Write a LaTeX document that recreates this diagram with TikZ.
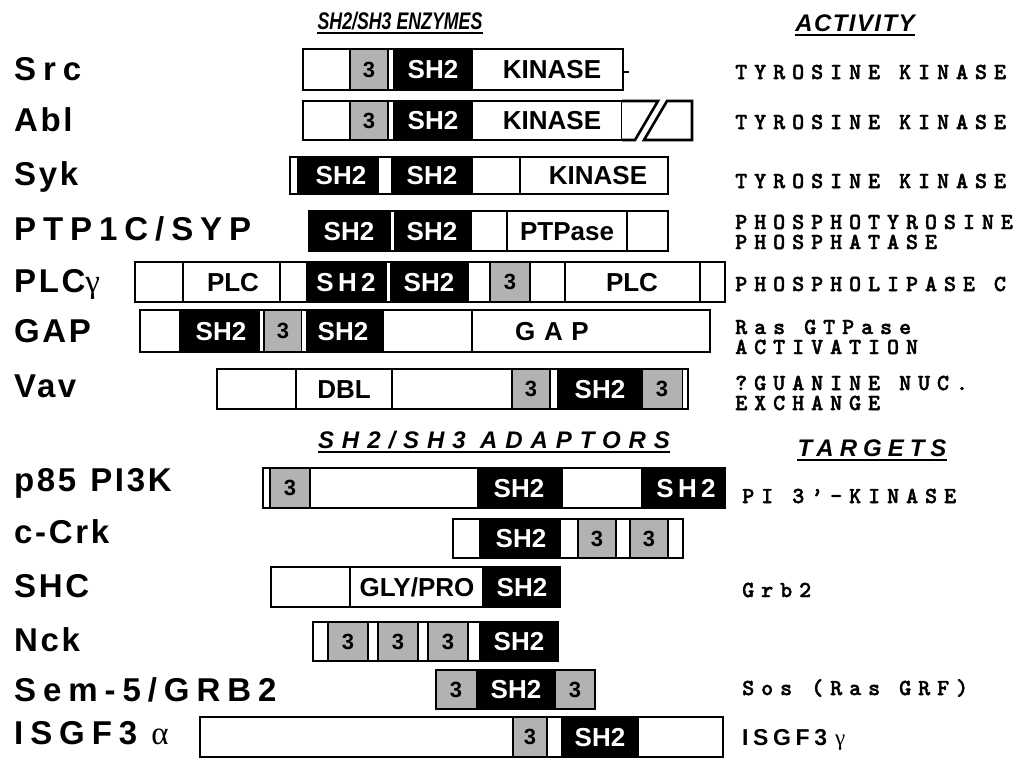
\documentclass[tikz,border=0pt]{standalone}
\usepackage{fontspec}
\setmainfont{Liberation Sans}
\newfontfamily\courfam[FakeBold=1.8]{lmmonolt10-bold.otf}
\newfontfamily\grkfam{Liberation Serif}
\usepackage{graphicx}
\usepackage{tikz}
\usetikzlibrary{positioning}
\definecolor{halftone}{HTML}{B2B2B2}
\tikzset{
  frame/.style={draw=black,line width=2.6pt},
  wseg/.style={draw=black,line width=1.5pt,fill=white},
  gseg/.style={draw=black,line width=1.2pt,fill=halftone},
  dtxt/.style={font=\fontsize{26}{26}\selectfont\bfseries,text height=18.6pt,text depth=0pt,inner sep=0pt},
  wtxt/.style={dtxt,text=white},
  ntxt/.style={font=\fontsize{22}{22}\selectfont\bfseries,text height=15.8pt,text depth=0pt,inner sep=0pt},
  lbl/.style={anchor=west,inner sep=0pt,text height=23.6pt,text depth=0pt,font=\fontsize{33}{33}\selectfont\bfseries\addfontfeature{LetterSpace=8}},
  lblw/.style={lbl,font=\fontsize{33}{33}\selectfont\bfseries\addfontfeature{LetterSpace=21}},
  act/.style={anchor=west,align=left,inner sep=0pt,font=\fontsize{23}{20}\selectfont\courfam\addfontfeature{LetterSpace=30}},
  tgs/.style={anchor=west,inner sep=0pt,font=\fontsize{23}{23}\selectfont\bfseries\addfontfeature{LetterSpace=20}},
  hdr/.style={inner sep=0pt,text height=17.2pt,text depth=0pt,font=\fontsize{24}{24}\selectfont\bfseries\itshape},
  uline/.style={line width=1.8pt}
}
\newcommand\setrow[2]{\def\ya{#1}\def\yb{#2}\pgfmathsetmacro\ym{(#1+#2)/2}}
\newcommand\dW[2]{\draw[wseg] (#1,\ya) rectangle (#2,\yb);}
\newcommand\dB[2]{\fill[black] (#1,\ya) rectangle (#2,\yb);}
\newcommand\dS[2]{\fill[white] (#1,\ya) rectangle (#2,\yb);}
\newcommand\dG[2]{\draw[gseg] (#1,\ya) rectangle (#2,\yb);}
\newcommand\dF[2]{\draw[frame] (#1,\ya) rectangle (#2,\yb);}
\begin{document}
\begin{tikzpicture}[x=1pt,y=-1pt]
\useasboundingbox (0,0) rectangle (1017,761);
\node[hdr] (hEnz) at (400,21) {\scalebox{0.74}[1]{SH2/SH3 ENZYMES}};
\node[hdr] (hAct) at (855,23) {\addfontfeature{LetterSpace=6}ACTIVITY};
\node[hdr] (hAdp) at (494,440) {\addfontfeature{LetterSpace=33}SH2/SH3 ADAPTORS};
\node[hdr] (hTgt) at (872,448) {\addfontfeature{LetterSpace=25}TARGETS};
\foreach \h in {hEnz,hAct,hAdp,hTgt}
  \draw[uline] ([yshift=-3.5pt]\h.south west) -- ([yshift=-3.5pt]\h.south east);
% enzymes
\setrow{49}{90}
\dW{303}{350} \dG{350}{388} \dW{388}{394} \dB{394}{472} \dW{472}{623} \dF{303}{623}
\draw[line width=1.6pt] (623,72) -- (629,72);
\node[ntxt] (src3) at (369,\ym) {3};
\node[wtxt] (srcSH) at (433,\ym) {SH2};
\node[dtxt] (srcK) at (552,\ym) {KINASE};
\setrow{101}{140}
\dW{303}{350} \dG{350}{388} \dW{388}{394} \dB{394}{472} \dW{472}{622} \dF{303}{622}
\draw[frame,fill=white] (622,\ya) -- (658,\ya) -- (635,\yb) -- (622,\yb);
\draw[frame,fill=white] (667,\ya) -- (692,\ya) -- (692,\yb) -- (644,\yb) -- cycle;
\node[ntxt] (abl3) at (369,\ym) {3};
\node[wtxt] (ablSH) at (433,\ym) {SH2};
\node[dtxt] (ablK) at (552,\ym) {KINASE};
\setrow{157}{194}
\dW{290}{298} \dB{298}{378} \dW{378}{392} \dB{392}{472} \dW{472}{520} \dW{520}{668} \dF{290}{668}
\node[wtxt] (sykSHa) at (341,\ym) {SH2};
\node[wtxt] (sykSHb) at (432,\ym) {SH2};
\node[dtxt] (sykK) at (598,\ym) {KINASE};
\setrow{211}{251}
\dB{309}{391} \dS{391}{394} \dB{394}{471} \dW{471}{507} \dW{507}{627} \dW{627}{668} \dF{309}{668}
\node[wtxt] (ptpSHa) at (349,\ym) {SH2};
\node[wtxt] (ptpSHb) at (432,\ym) {SH2};
\node[dtxt] (ptpP) at (567,\ym) {PTPase};
\setrow{262}{302}
\dW{135}{183} \dW{183}{280} \dW{280}{307} \dB{307}{387} \dS{387}{390} \dB{390}{468}
\dW{468}{490} \dG{490}{530} \dW{530}{565} \dW{565}{700} \dW{700}{725} \dF{135}{725}
\node[dtxt] (plcA) at (233,\ym) {PLC};
\node[wtxt] (plcSHa) at (346,\ym) {S\,H\,2};
\node[wtxt] (plcSHb) at (429,\ym) {SH2};
\node[ntxt] (plc3) at (510,\ym) {3};
\node[dtxt] (plcB) at (632,\ym) {PLC};
\setrow{310}{352}
\dW{140}{180} \dB{180}{260} \dS{260}{264} \dG{264}{302} \dS{302}{306} \dB{306}{383}
\dW{383}{472} \dW{472}{710} \dF{140}{710}
\node[wtxt] (gapSHa) at (221,\ym) {SH2};
\node[ntxt] (gap3) at (283,\ym) {3};
\node[wtxt] (gapSHb) at (343,\ym) {SH2};
\node[dtxt] (gapG) at (552,\ym) {G\,\,A\,\,P};
\setrow{369}{409}
\dW{217}{296} \dW{296}{392} \dW{392}{512} \dG{512}{550} \dW{550}{558} \dB{558}{642}
\dG{642}{683} \dS{683}{685.5} \dF{217}{688}
\node[dtxt] (vavD) at (344,\ym) {DBL};
\node[ntxt] (vav3a) at (531,\ym) {3};
\node[wtxt] (vavSH) at (600,\ym) {SH2};
\node[ntxt] (vav3b) at (662,\ym) {3};
% adaptors
\setrow{468}{508}
\dW{263}{270} \dG{270}{310} \dW{310}{478} \dB{478}{562} \dW{562}{642} \dB{642}{725} \dF{263}{725}
\node[ntxt] (p853) at (290,\ym) {3};
\node[wtxt] (p85SHa) at (519,\ym) {SH2};
\node[wtxt] (p85SHb) at (686,\ym) {S\,H\,2};
\setrow{519}{558}
\dW{453}{480} \dB{480}{560} \dW{560}{578} \dG{578}{616} \dW{616}{630} \dG{630}{668} \dW{668}{683} \dF{453}{683}
\node[wtxt] (crkSH) at (521,\ym) {SH2};
\node[ntxt] (crk3a) at (597,\ym) {3};
\node[ntxt] (crk3b) at (649,\ym) {3};
\setrow{567}{607}
\dW{271}{350} \dW{350}{483} \dB{483}{560} \dF{271}{560}
\node[dtxt] (shcG) at (417,\ym) {GLY/PRO};
\node[wtxt] (shcSH) at (522,\ym) {SH2};
\setrow{622}{661}
\dW{313}{328} \dW{328}{480} \dB{480}{558}
\foreach \gx [count=\k] in {328,378,428}{
  \dG{\gx}{\gx+40}
  \node[ntxt] (nck3\k) at (\gx+20,\ym) {3};
}
\dF{313}{558}
\node[wtxt] (nckSH) at (519,\ym) {SH2};
\setrow{670}{709}
\dG{436}{477} \dB{477}{555} \dG{555}{595} \dF{436}{595}
\node[ntxt] (sem3a) at (456,\ym) {3};
\node[wtxt] (semSH) at (516,\ym) {SH2};
\node[ntxt] (sem3b) at (575,\ym) {3};
\setrow{717}{757}
\dW{200}{513} \dG{513}{547} \dW{547}{562} \dB{562}{638} \dW{638}{723} \dF{200}{723}
\node[ntxt] (isg3) at (530,\ym) {3};
\node[wtxt] (isgSH) at (600,\ym) {SH2};
% names
\node[lblw] (lSrc) at (14,69) {Src};
\node[lbl] (lAbl) at (14,120) {Abl};
\node[lbl] (lSyk) at (14,174) {Syk};
\node[lblw] (lPtp) at (14,229) {PTP1C/SYP};
\node[lbl] (lPlc) at (14,281) {PLC{\grkfam\mdseries γ}};
\node[lbl] (lGap) at (14,331) {GAP};
\node[lbl] (lVav) at (14,386) {Vav};
\node[lbl] (lP85) at (14,480) {p85\hspace{14pt}PI3K};
\node[lbl] (lCrk) at (14,532) {c-Crk};
\node[lbl] (lShc) at (14,586) {SHC};
\node[lbl] (lNck) at (14,640) {Nck};
\node[lblw] (lSem) at (14,690) {Sem-5/GRB2};
\node[lblw] (lIsg) at (14,733) {ISGF3\hspace{14pt}{\grkfam\mdseries α}};
% activity / targets
\node[act] (aSrc) at (735,72) {TYROSINE KINASE};
\node[act] (aAbl) at (735,122) {TYROSINE KINASE};
\node[act] (aSyk) at (735,181) {TYROSINE KINASE};
\node[act] (aPtp) at (735,232) {PHOSPHOTYROSINE\\PHOSPHATASE};
\node[act] (aPlc) at (735,284) {PHOSPHOLIPASE C};
\node[act] (aGap) at (735,337) {Ras GTPase\\ACTIVATION};
\node[act] (aVav) at (735,393) {?GUANINE NUC.\\EXCHANGE};
\node[act] (tP85) at (742,496) {PI 3’-KINASE};
\node[act] (tShc) at (742,590) {Grb2};
\node[act] (tSem) at (742,688) {Sos (Ras GRF)};
\node[tgs] (tIsg) at (742,740) {ISGF3\hspace{8pt}{\grkfam\mdseries γ}};
\end{tikzpicture}
\end{document}
